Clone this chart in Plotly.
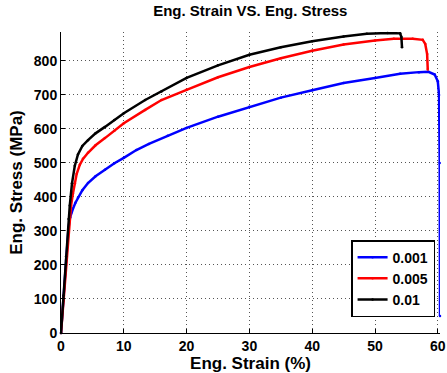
import plotly.graph_objects as go

# strain (%) / stress (MPa)
strain_001 = [0, 0.4, 0.8, 1.2, 1.45, 1.7, 1.9, 2.3, 2.7, 3.4, 4.3, 5.5, 7, 8.5, 10, 12, 14, 17,
              20, 25, 30, 35, 40, 45, 50, 54, 57, 58.5, 59.5, 60.0, 60.2, 60.3, 60.35]
stress_001 = [0, 105, 215, 310, 340, 355, 365, 383, 398, 420, 441, 461, 480, 499, 515, 538, 556, 580,
              603, 636, 665, 692, 714, 735, 750, 762, 767, 768, 760, 740, 700, 500, 50]

strain_005 = [0, 0.4, 0.8, 1.2, 1.6, 1.9, 2.2, 2.5, 3.0, 3.5, 4.3, 5.5, 7, 8.5, 10, 13.4, 16,
              20, 25, 30, 35, 40, 45, 50, 53, 56, 57.6, 58.0, 58.3, 58.4]
stress_005 = [0, 95, 200, 300, 375, 410, 440, 468, 495, 512, 530, 552, 573, 595, 617, 656, 685,
              715, 752, 782, 808, 830, 848, 860, 865, 865, 862, 850, 820, 775]

strain_01 = [0, 0.4, 0.8, 1.2, 1.4, 1.75, 2.2, 2.7, 3.4, 4.3, 5.5, 7, 8.5, 10, 13.4, 16,
             20, 25, 30, 35, 40, 45, 48.7, 52, 54, 54.2, 54.3]
stress_01 = [0, 110, 225, 335, 375, 440, 492, 525, 550, 567, 587, 606, 626, 646, 685, 710,
             750, 787, 818, 840, 858, 872, 880, 882, 881, 870, 840]

series = [
    ("0.001", strain_001, stress_001, "#0000ff"),
    ("0.005", strain_005, stress_005, "#ff0000"),
    ("0.01", strain_01, stress_01, "#000000"),
]

fig = go.Figure()
for name, x, y, color in series:
    fig.add_trace(go.Scatter(
        x=x, y=y, name=name, mode="lines+markers",
        line=dict(color=color, width=2.5),
        marker=dict(color=color, size=2.5),
        cliponaxis=False,
    ))

fam = "Liberation Sans, Arial, sans-serif"
axis_font = dict(family=fam, size=14, color="black", weight="bold")

fig.update_layout(
    width=447, height=373,
    margin=dict(l=61, r=7, t=32, b=40),
    paper_bgcolor="white", plot_bgcolor="white",
    font=axis_font,
    title=dict(text="Eng. Strain VS. Eng. Stress", x=0.56, xanchor="center", y=0.985, yanchor="top",
               font=dict(family=fam, size=15, color="black", weight="bold")),
    showlegend=True,
    legend=dict(x=0.987, y=0.053, xanchor="right", yanchor="bottom",
                bgcolor="white", bordercolor="black", borderwidth=1.5,
                font=dict(family=fam, size=14, color="black", weight="bold"),
                tracegroupgap=0),
)

grid = dict(showgrid=True, gridcolor="#555", griddash="1px,3px", gridwidth=1,
            showline=True, linecolor="black", linewidth=1,
            ticks="inside", ticklen=4, tickcolor="black",
            zeroline=False, automargin=False)

fig.update_xaxes(
    range=[0, 60.35], tickvals=[0, 10, 20, 30, 40, 50, 60],
    title=dict(text="Eng. Strain (%)", standoff=0), **grid,
)
fig.update_yaxes(
    range=[0, 885], tickvals=[0, 100, 200, 300, 400, 500, 600, 700, 800],
    title=dict(text="Eng. Stress (MPa)", standoff=6), **grid,
)

# drop the browser's default body margin so the figure sits at the page corner
fig.write_html("out.html", config={"displayModeBar": False},
               post_script="document.body.style.margin='0';document.body.style.overflow='hidden';")
